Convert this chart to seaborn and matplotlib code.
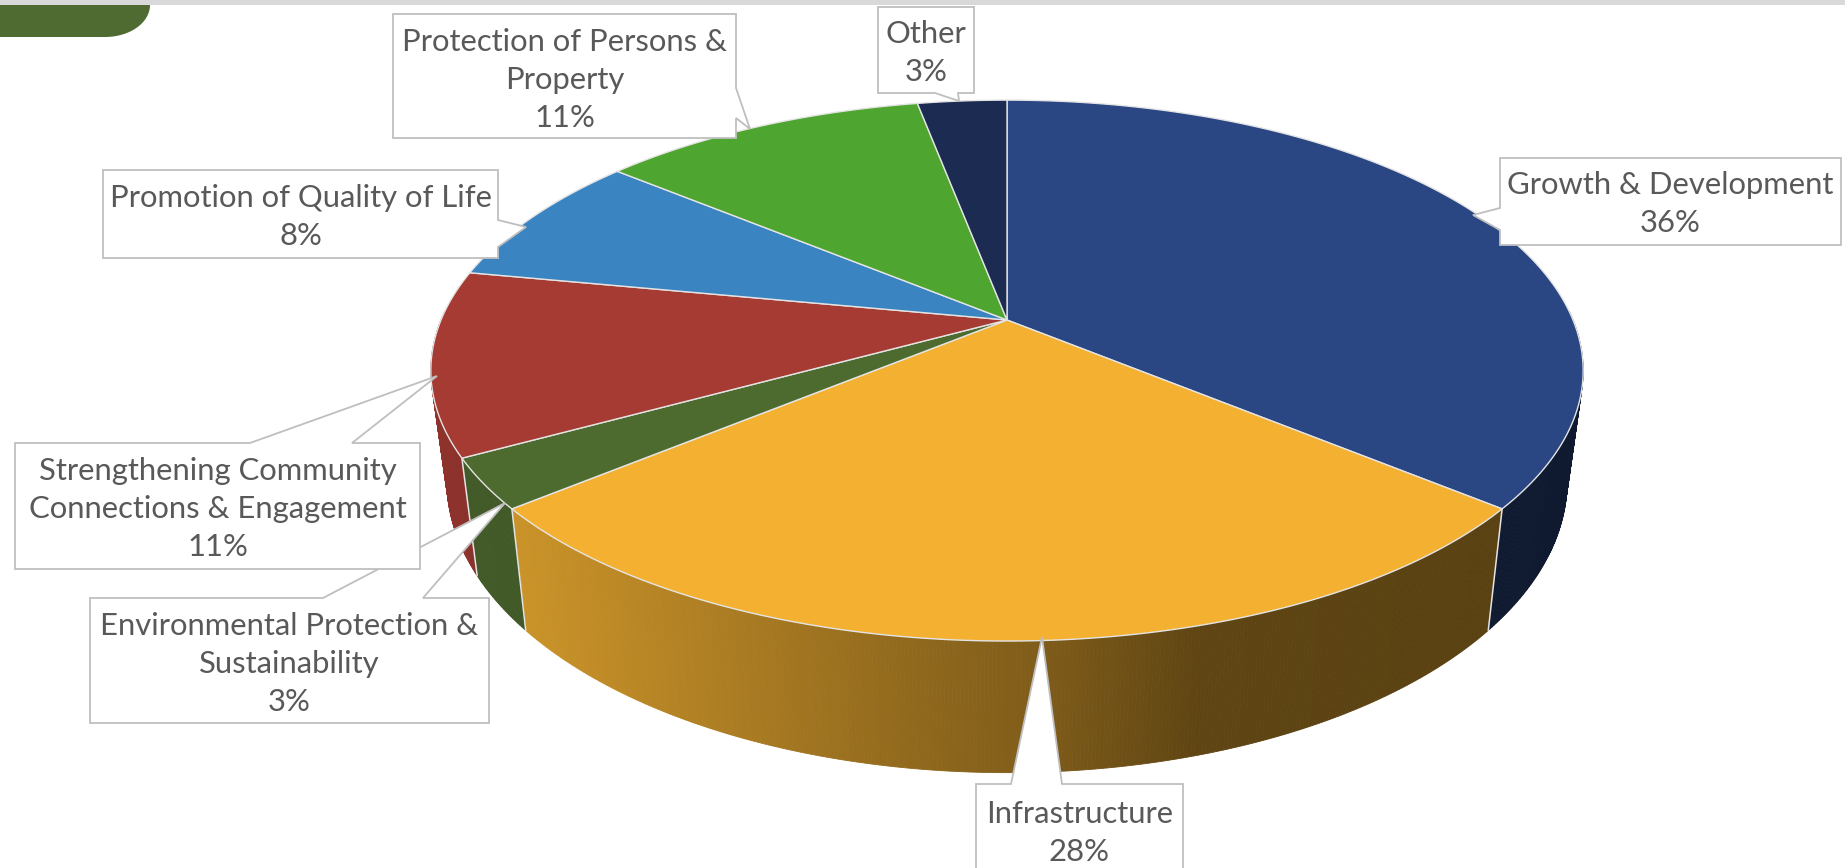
import numpy as np
import matplotlib
matplotlib.use("Agg")
import matplotlib.pyplot as plt
import seaborn as sns
from matplotlib.patches import Polygon, Rectangle

# ---- data -------------------------------------------------------------
categories = [
    "Growth & Development",
    "Infrastructure",
    "Environmental Protection & Sustainability",
    "Strengthening Community Connections & Engagement",
    "Promotion of Quality of Life",
    "Protection of Persons & Property",
    "Other",
]
shares = [36, 28, 3, 11, 8, 11, 3]
label_names = [
    "Growth & Development",
    "Infrastructure",
    "Environmental Protection &\nSustainability",
    "Strengthening Community\nConnections & Engagement",
    "Promotion of Quality of Life",
    "Protection of Persons &\nProperty",
    "Other",
]

# ---- style ------------------------------------------------------------
sns.set_theme(style="white")
plt.rcParams["font.family"] = ["Lato", "DejaVu Sans"]
slice_colors = sns.color_palette(
    ["#2A4784", "#F4B131", "#4E6B2F", "#A63B34", "#3A84C2", "#4EA52F", "#1C2B52"]
)
TEXT_COLOR = "#595959"
EDGE_LIGHT = "#E4E4E4"
BOX_EDGE = "#BFBFBF"

W, H = 1845, 868
fig = plt.figure(figsize=(W / 100, H / 100), dpi=100)
ax = fig.add_axes([0, 0, 1, 1])
ax.set_xlim(0, W)
ax.set_ylim(H, 0)
ax.axis("off")

# ---- perspective projection of a tilted disc --------------------------
CX, CY = 1007, 320      # projected centre of the disc
RX, RY = 566, 261       # horizontal / depth radii
K = -0.187              # perspective foreshortening
THICK = 107             # wall height
SHRINK = 0.028          # wall convergence toward the bottom


def project(theta_deg, depth=0.0):
    t = np.deg2rad(theta_deg)
    u, v = np.sin(t), -np.cos(t)
    d = 1 + K * v
    x = CX + RX * u / d * (1 - SHRINK * depth)
    y = CY + (RY * v + THICK * depth) / d
    return x, y


def wall_shade(x):
    return np.interp(x, [420, 540, 900, 1040, 1200, 1600],
                     [0.86, 0.82, 0.60, 0.52, 0.39, 0.36])


total = float(sum(shares))
bounds = np.concatenate([[0.0], np.cumsum(shares) / total * 360.0])

# side walls (only the front half can be seen)
for i in range(len(shares)):
    a0, a1 = bounds[i], bounds[i + 1]
    lo, hi = max(a0, 88.0), min(a1, 272.0)
    if lo >= hi:
        continue
    n = max(3, int((hi - lo) * 3))
    ts = np.linspace(lo, hi, n)
    base = np.array(slice_colors[i])
    for t0, t1 in zip(ts[:-1], ts[1:]):
        pts = [project(t0, 0), project(t1, 0), project(t1, 1), project(t0, 1)]
        xm = np.mean([p[0] for p in pts])
        c = np.clip(base * wall_shade(xm), 0, 1)
        ax.add_patch(Polygon(pts, closed=True, fc=c, ec=c, lw=0.6, zorder=2))

# vertical seams between neighbouring walls
for b in bounds:
    if 90 < b < 270:
        (x0, y0), (x1, y1) = project(b, 0), project(b, 1)
        ax.plot([x0, x1], [y0, y1], color=EDGE_LIGHT, lw=1.1, zorder=3,
                solid_capstyle="round")

# top faces
for i in range(len(shares)):
    a0, a1 = bounds[i], bounds[i + 1]
    ts = np.linspace(a0, a1, max(4, int((a1 - a0) * 2)))
    pts = [(CX, CY)] + [project(t, 0) for t in ts]
    ax.add_patch(Polygon(pts, closed=True, fc=slice_colors[i], ec=EDGE_LIGHT,
                         lw=1.0, joinstyle="round", zorder=4))

# ---- data-label callouts ---------------------------------------------


def callout(box, side, base, tip, z):
    x0, y0, x1, y1 = box
    b0, b1 = base
    if side == "top":
        pts = [(x0, y0), (b0, y0), tip, (b1, y0), (x1, y0), (x1, y1), (x0, y1)]
    elif side == "right":
        pts = [(x0, y0), (x1, y0), (x1, b0), tip, (x1, b1), (x1, y1), (x0, y1)]
    elif side == "left":
        pts = [(x0, y0), (x1, y0), (x1, y1), (x0, y1), (x0, b1), tip, (x0, b0)]
    else:
        pts = [(x0, y0), (x1, y0), (x1, y1), (b1, y1), tip, (b0, y1), (x0, y1)]
    ax.add_patch(Polygon(pts, closed=True, fc="white", ec=BOX_EDGE, lw=1.3,
                         joinstyle="miter", zorder=z))


label_layout = [
    # box (x0, y0, x1, y1), side, base, tip, text centre y
    ((1500, 158, 1841, 245), "left", (208, 230), (1473, 215), 204),
    ((976, 784, 1183, 900), "top", (1011, 1062), (1042, 637), 833),
    ((90, 598, 489, 723), "top", (323, 423), (505, 503), 664),
    ((15, 443, 420, 569), "top", (250, 352), (437, 376), 509),
    ((103, 170, 498, 258), "right", (220, 247), (526, 227), 217),
    ((393, 14, 736, 138), "right", (88, 118), (750, 129), 80),
    ((878, 7, 974, 93), "bottom", (935, 958), (959, 101), 53),
]

for i, (box, side, base, tip, yc) in enumerate(label_layout):
    z = 6 + i * 0.1
    if i == 3:
        z = 7.5
    callout(box, side, base, tip, z)
    x0, y0, x1, y1 = box
    pct = round(shares[i] / total * 100)
    ax.text((x0 + x1) / 2, yc, f"{label_names[i]}\n{pct}%", ha="center",
            va="center", ma="center", color=TEXT_COLOR, fontsize=22.3,
            linespacing=1.42, zorder=z + 0.05)

# ---- page decoration -------------------------------------------------
ax.add_patch(Rectangle((0, 0), W, 5, fc="#D9D9D9", ec="none", zorder=1))
tab_t = np.linspace(0, np.pi / 2, 40)
tab = [(0, 5)] + [(105 + 45 * np.cos(t), 5 + 32 * np.sin(t)) for t in tab_t] + [(0, 37)]
ax.add_patch(Polygon(tab, closed=True, fc="#4F6B32", ec="none", zorder=1))

fig.savefig("out.png", dpi=100)
